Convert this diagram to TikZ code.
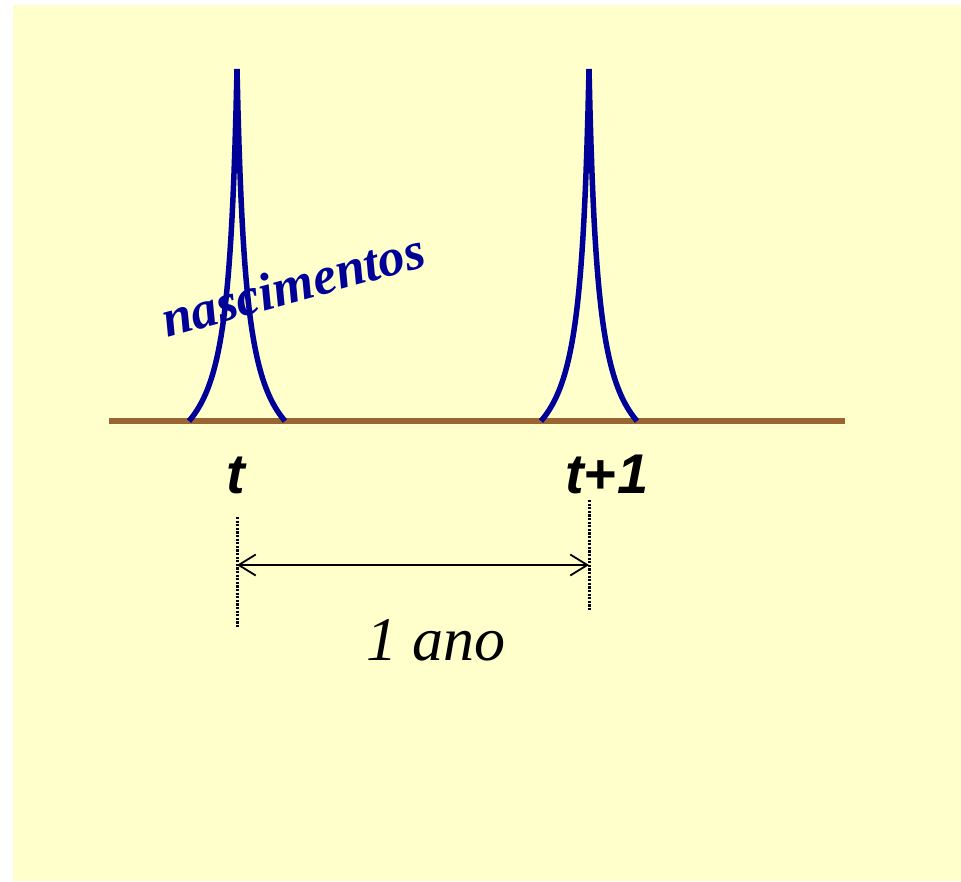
\documentclass[tikz,border=0pt]{standalone}
\usepackage{fontspec}
\setmainfont{Liberation Serif}
\setsansfont{Liberation Sans}
\usetikzlibrary{arrows.meta}
\definecolor{paper}{HTML}{FFFFCC}
\definecolor{ground}{HTML}{996633}
\definecolor{birth}{HTML}{000099}

\begin{document}
\begin{tikzpicture}[
  x=1pt, y=-1pt,
  peak/.style={draw=birth, line width=5.5pt},
  axis/.style={draw=ground, line width=6pt},
  marker/.style={draw=black, line width=3pt, dash pattern=on 2.2pt off 1.4pt},
  span/.style={{Straight Barb[length=17pt,width=21pt]}-{Straight Barb[length=17pt,width=21pt]}, line width=1.8pt},
  tlabel/.style={font=\sffamily\bfseries\itshape\fontsize{56}{60}\selectfont, anchor=base, inner sep=0pt},
  birthlabel/.style={font=\bfseries\itshape\fontsize{53}{53}\selectfont, text=birth, anchor=base west, inner sep=0pt},
  yearlabel/.style={font=\itshape\fontsize{62}{62}\selectfont, anchor=base west, inner sep=0pt}
]
\useasboundingbox (0,0) rectangle (961,881);
\fill[paper] (13,5) rectangle (961,881);

% time axis
\coordinate (axisL) at (109,421);
\coordinate (axisR) at (845,421);
\draw[axis] (axisL) -- (axisR);

% birth pulses at t and t+1
\foreach \c in {237,589}
  \draw[peak] plot[domain=-48:48, samples=97] ({\c+\x}, {487-418/(1+abs(\x)/9)});

\node[birthlabel, rotate=15.5] (births) at (167,338) {nascimentos};

\node[tlabel] (t0) at (236,493) {t};
\node[tlabel] (t1) at (607,493) {t{\upshape+}1};

% one-year interval
\coordinate (m0top) at (237,517);
\coordinate (m0bot) at (237,627);
\coordinate (m1top) at (589,500);
\coordinate (m1bot) at (589,610);
\draw[marker] (m0top) -- (m0bot);
\draw[marker] (m1top) -- (m1bot);
\coordinate (s0) at (237,565);
\coordinate (s1) at (589,565);
\draw[span] (s0) -- (s1);

\node[yearlabel] (year) at (366,660) {1 ano};
\end{tikzpicture}
\end{document}
